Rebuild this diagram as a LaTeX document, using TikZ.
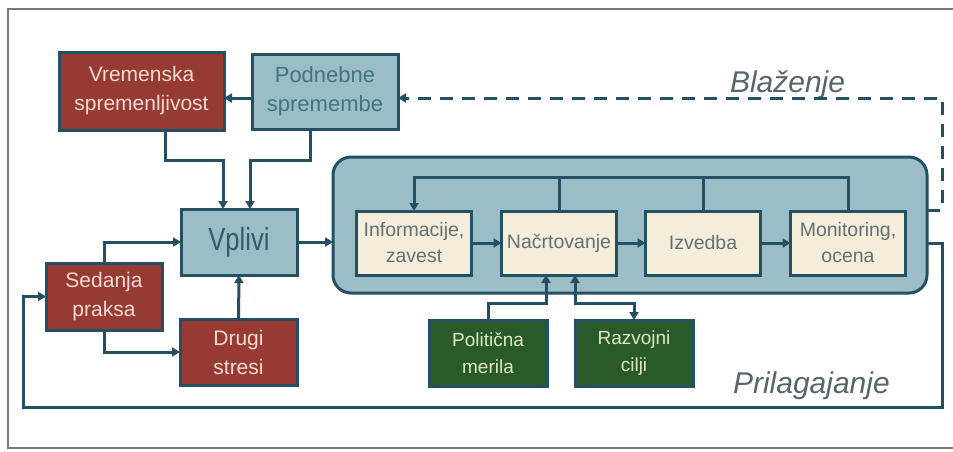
\documentclass[tikz,border=0pt]{standalone}
\usepackage{fontspec}
\setmainfont{Liberation Sans}
\usetikzlibrary{arrows.meta}
\definecolor{redbox}{RGB}{152,58,52}
\definecolor{redtxt}{RGB}{242,218,208}
\definecolor{bluebox}{RGB}{155,190,198}
\definecolor{bluetxt}{RGB}{66,116,132}
\definecolor{vpltxt}{RGB}{48,92,108}
\definecolor{edge}{RGB}{36,80,100}
\definecolor{cream}{RGB}{243,237,218}
\definecolor{creamtxt}{RGB}{100,112,118}
\definecolor{greenbox}{RGB}{42,90,42}
\definecolor{greentxt}{RGB}{222,232,192}
\definecolor{labtxt}{RGB}{86,100,110}
\definecolor{framec}{RGB}{120,120,120}
\begin{document}
\begin{tikzpicture}[x=1pt,y=-1pt,
  every node/.style={inner sep=0pt,outer sep=0pt},
  box/.style={draw=edge,line width=3pt,align=center},
  redb/.style={box,fill=redbox,text=redtxt,font=\fontsize{21}{29}\selectfont},
  blueb/.style={box,fill=bluebox,text=bluetxt,font=\fontsize{22}{29}\selectfont},
  creamb/.style={box,fill=cream,text=creamtxt,font=\fontsize{19.5}{26}\selectfont,minimum width=115pt,minimum height=64pt},
  greenb/.style={box,fill=greenbox,text=greentxt,font=\fontsize{19}{27}\selectfont,minimum width=118pt,minimum height=66pt},
  conn/.style={draw=edge,line width=3pt},
  arr/.style={conn,-{Triangle[length=8pt,width=9pt]}},
  biarr/.style={conn,{Triangle[length=8pt,width=9pt]}-{Triangle[length=8pt,width=9pt]}},
  lab/.style={text=labtxt,font=\fontsize{30}{34}\selectfont\itshape,anchor=base west}
]
\useasboundingbox (0,0) rectangle (953,451);
\fill[white] (0,0) rectangle (953,451);
% frame
\draw[framec,line width=1.5pt] (953,9) -- (8,9) -- (8,448) -- (953,448);

% big rounded container
\node[draw=edge,line width=3pt,fill=bluebox,rounded corners=18pt,minimum width=594pt,minimum height=136pt] (big) at (630,225) {};

% boxes
\node[redb,minimum width=165pt,minimum height=78pt] (vrem) at (141.5,91) {Vremenska\\spremenljivost};
\node[blueb,minimum width=146pt,minimum height=75pt] (podn) at (325,91.5) {Podnebne\\spremembe};
\node[box,fill=bluebox,text=vpltxt,font=\fontsize{32}{34}\selectfont,minimum width=116pt,minimum height=66pt] (vpl) at (239,242) {\scalebox{0.8}[1]{Vplivi}};
\node[redb,minimum width=116pt,minimum height=67pt] (sed) at (104,296.5) {Sedanja\\praksa};
\node[redb,minimum width=117pt,minimum height=66pt] (dru) at (238.5,352) {Drugi\\stresi};

\node[creamb] (inf) at (414,243) {Informacije,\\zavest};
\node[creamb] (nac) at (559,243) {Načrtovanje};
\node[creamb] (izv) at (703,243) {Izvedba};
\node[creamb] (mon) at (848,243) {Monitoring,\\ocena};

\node[greenb] (pol) at (488,353) {Politična\\merila};
\node[greenb] (raz) at (634,353) {Razvojni\\cilji};

% labels
\node[lab] (bla) at (730,92) {Blaženje};
\node[lab] (pri) at (733,393) {Prilagajanje};

% helper coordinates
\coordinate (ay) at (0,98);
\coordinate (dy) at (0,210);
\coordinate (hv) at (0,160);
\coordinate (fb) at (0,177);
\coordinate (hg) at (0,303);
\coordinate (rr) at (942,0);
\coordinate (bb) at (0,407);
\coordinate (ll) at (23,0);
\coordinate (vremB) at (165,130);
\coordinate (podnB) at (310,129);
\coordinate (vplA) at (223,209);
\coordinate (vplB) at (250,209);
\coordinate (nacL) at (546,275);
\coordinate (nacR) at (575,275);

% connectors
\draw[arr] (podn.west |- ay) -- (vrem.east |- ay);
\draw[arr,dash pattern=on 13pt off 9pt] (big.east |- dy) -| (rr |- ay) -- (podn.east |- ay);
\draw[arr] (vremB) |- (vplA |- hv) -- (vplA);
\draw[arr] (podnB) |- (vplB |- hv) -- (vplB);
\draw[arr] (sed.north) |- (vpl.west);
\draw[arr] (sed.south) |- (dru.west);
\draw[arr] (dru.north) -- (vpl.south);
\draw[arr] (vpl.east) -- (vpl.east -| big.west);

\draw[arr] (inf.east) -- (nac.west);
\draw[arr] (nac.east) -- (izv.west);
\draw[arr] (izv.east) -- (mon.west);
\draw[arr] (mon.north) |- (inf.north |- fb) -- (inf.north);
\draw[conn] (nac.north) -- (nac.north |- fb);
\draw[conn] (izv.north) -- (izv.north |- fb);

\draw[arr] (pol.north) |- (nacL |- hg) -- (nacL);
\draw[biarr] (nacR) |- (raz.north |- hg) -- (raz.north);

\draw[arr] (big.east |- mon.east) -| (rr |- bb) -| (ll |- sed.west) -- (sed.west);
\end{tikzpicture}
\end{document}
